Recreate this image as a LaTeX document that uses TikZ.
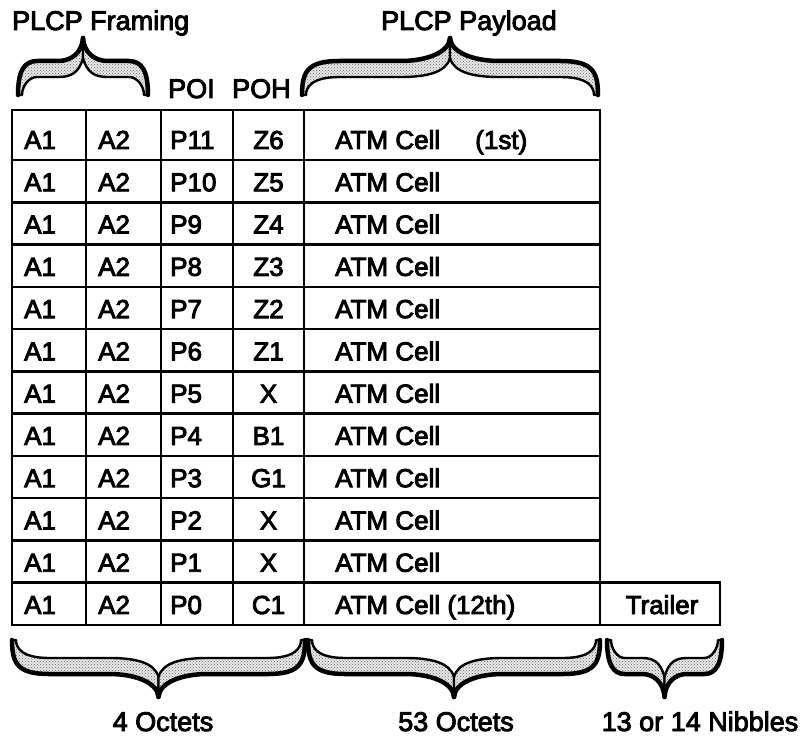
\documentclass[tikz,border=0pt]{standalone}
\usepackage{fontspec}
\setmainfont{Liberation Sans}
\usetikzlibrary{patterns}
\newcommand\heavy[1]{\special{pdf:literal direct 2 Tr 0.9 w}#1\special{pdf:literal direct 0 Tr}}
\newcommand\fancybrace[4]{% x1, x2, y0, sign (+1 points down, -1 points up)
  \pgfmathsetmacro\bxa{#1}\pgfmathsetmacro\bxb{#2}%
  \pgfmathsetmacro\bxm{(\bxa+\bxb)/2}\pgfmathsetmacro\bhw{(\bxb-\bxa)/2}%
  \pgfmathsetmacro\bea{0.22*\bhw+5}\pgfmathsetmacro\beb{0.3*\bhw+5}%
  \pgfmathsetmacro\bhh{0.5*\beb}%
  \begin{scope}[shift={(\bxm,#3)}, yscale=#4]
    \foreach \bsx in {1,-1}{
      \begin{scope}[xscale=\bsx]
        \draw[bracebody]
          (-\bhw,0) .. controls (-\bhw,24) and (-\bhw+6,34) .. (-\bhw+\bea,34)
          -- (-\beb,34) .. controls (-\bhh,34) and (-1,42) .. (0,57)
          -- (0,37) .. controls (-4,22) and (-\bhh,18) .. (-\beb,18)
          -- (-\bhw+\bea,18) .. controls (-\bhw+10,18) and (-\bhw+4,8) .. (-\bhw+4,0)
          -- cycle;
        \draw[braceedge]
          (-\bhw,0) .. controls (-\bhw,24) and (-\bhw+6,34) .. (-\bhw+\bea,34)
          -- (-\beb,34) .. controls (-\bhh,34) and (-1,42) .. (0,57);
      \end{scope}
    }
  \end{scope}
}
\begin{document}
\begin{tikzpicture}[x=1pt,y=-1pt,
  grid/.style={line width=2.6pt, line cap=rect},
  cell/.style={font=\fontsize{26}{30}\selectfont, inner sep=0pt, anchor=base west},
  ccell/.style={font=\fontsize{26}{30}\selectfont, inner sep=0pt, anchor=base},
  lab/.style={font=\fontsize{27}{32}\selectfont, inner sep=0pt},
  bracebody/.style={line width=2.4pt, line join=round, preaction={fill=gray!18},
    pattern=crosshatch dots, pattern color=black!60},
  braceedge/.style={line width=4.5pt, line cap=round, line join=round}]
\useasboundingbox (0,0) rectangle (808,741);

% headers
\node[lab, anchor=base west] (hframing) at (12,30) {\heavy{PLCP Framing}};
\node[lab, anchor=base west] (hpayload) at (381,30) {\heavy{PLCP Payload}};
\node[lab, anchor=base west] (hpoi) at (168,98) {\heavy{POI}};
\node[lab, anchor=base west] (hpoh) at (232,98) {\heavy{POH}};

% table grid
\draw[grid] (12,110) rectangle (600,625);
\foreach \gx in {86,161,233,304} \draw[grid] (\gx,110) -- (\gx,625);
\foreach \gk in {1,...,11} {
  \pgfmathsetmacro\gy{160+42.27*(\gk-1)}
  \draw[grid] (12,\gy) -- (600,\gy);
}
\draw[grid] (600,582.7) -- (720,582.7) -- (720,625) -- (600,625);

% cells
\foreach \pp/\zz/\tt [count=\k] in {
  P11/Z6/{ATM Cell\hspace{1.35em}(1st)},
  P10/Z5/ATM Cell, P9/Z4/ATM Cell, P8/Z3/ATM Cell, P7/Z2/ATM Cell,
  P6/Z1/ATM Cell, P5/X/ATM Cell, P4/B1/ATM Cell, P3/G1/ATM Cell,
  P2/X/ATM Cell, P1/X/ATM Cell, P0/C1/{ATM Cell (12th)}} {
  \pgfmathsetmacro\by{160+42.27*(\k-1)-11}
  \node[cell] (a1-\k) at (24,\by) {\heavy{A1}};
  \node[cell] (a2-\k) at (98,\by) {\heavy{A2}};
  \node[cell] (p-\k) at (170,\by) {\heavy{\pp}};
  \node[ccell] (z-\k) at (268.5,\by) {\heavy{\zz}};
  \node[cell] (atm-\k) at (335,\by) {\heavy{\tt}};
}
\node[ccell] (trailer) at (662,614) {\heavy{Trailer}};

% braces
\fancybrace{18}{148}{95}{-1}
\fancybrace{302}{598}{95}{-1}
\fancybrace{12}{305}{640}{1}
\fancybrace{308}{600}{640}{1}
\fancybrace{607}{722}{640}{1}

% bottom labels
\node[lab, anchor=base] (l4) at (163,731) {\heavy{4 Octets}};
\node[lab, anchor=base] (l53) at (456,731) {\heavy{53 Octets}};
\node[lab, anchor=base] (lnib) at (700,731) {\heavy{13 or 14 Nibbles}};
\end{tikzpicture}
\end{document}
